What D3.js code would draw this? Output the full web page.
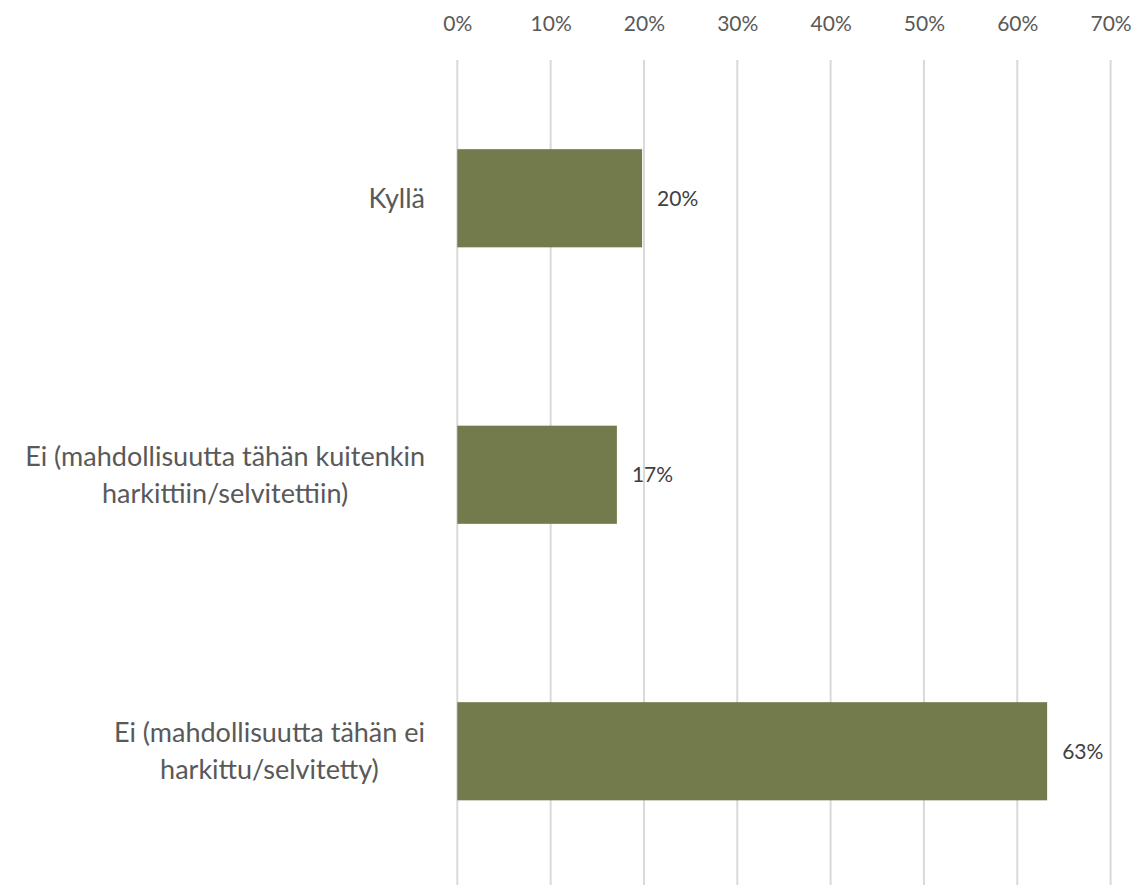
<!DOCTYPE html>
<html><head><meta charset="utf-8">
<script src="https://cdn.jsdelivr.net/npm/d3@7/dist/d3.min.js"></script>
<style>body{margin:0;background:#fff;}svg{display:block;font-family:Lato,"Open Sans",sans-serif;}</style>
</head><body>
<svg id="c" width="1137" height="885"></svg>
<script>
const categories = [
  ["Kyllä"],
  ["Ei (mahdollisuutta tähän kuitenkin", "harkittiin/selvitettiin)"],
  ["Ei (mahdollisuutta tähän ei", "harkittu/selvitetty)"]
];
const values = [0.198, 0.171, 0.632];
const tickValues = [0, 0.1, 0.2, 0.3, 0.4, 0.5, 0.6, 0.7];

const svg = d3.select("#c");
const x = d3.scaleLinear().domain([0, 0.7]).range([457.3, 1110.6]);
const y = d3.scaleBand().domain(d3.range(categories.length)).range([60, 889.5])
  .paddingInner(0.645).paddingOuter(0.3225);
const textColor = "#595959";

// gridlines
svg.append("g").selectAll("line").data(tickValues).join("line")
  .attr("x1", d => x(d)).attr("x2", d => x(d))
  .attr("y1", 60).attr("y2", 885)
  .attr("stroke", "#d9d9d9").attr("stroke-width", 2);

// top axis
const axis = d3.axisTop(x).tickValues(tickValues).tickFormat(d3.format(".0%")).tickSize(0).tickPadding(0);
const ag = svg.append("g").attr("transform", "translate(0,31)").call(axis);
ag.select(".domain").remove();
ag.selectAll("text").attr("fill", textColor).attr("font-size", 21).attr("font-family", "Lato,'Open Sans',sans-serif");

// bars
svg.append("g").selectAll("rect").data(values).join("rect")
  .attr("x", x(0)).attr("y", (d, i) => y(i))
  .attr("width", d => x(d) - x(0)).attr("height", y.bandwidth())
  .attr("fill", "#737b4c");

// value labels
svg.append("g").selectAll("text").data(values).join("text")
  .attr("x", d => x(d) + 15).attr("y", (d, i) => y(i) + y.bandwidth() / 2)
  .attr("dy", "0.35em").attr("fill", "#404040").attr("font-size", 21)
  .text(d => d3.format(".0%")(d));

// category labels (block right-aligned, lines centered within block)
const lh = 37;
const rightEdge = 425;
const cg = svg.append("g").selectAll("text").data(categories).join("text")
  .attr("text-anchor", "middle").attr("fill", textColor).attr("font-size", 27)
  .attr("y", (d, i) => y(i) + y.bandwidth() / 2 - (d.length - 1) * lh / 2);
cg.selectAll("tspan").data(d => d).join("tspan")
  .attr("dy", (d, j) => j === 0 ? "0.35em" : lh)
  .text(d => d);
cg.each(function() {
  const ts = d3.select(this).selectAll("tspan");
  let maxW = 0;
  ts.each(function() { maxW = Math.max(maxW, this.getComputedTextLength()); });
  ts.attr("x", rightEdge - maxW / 2);
});
</script>
</body></html>
